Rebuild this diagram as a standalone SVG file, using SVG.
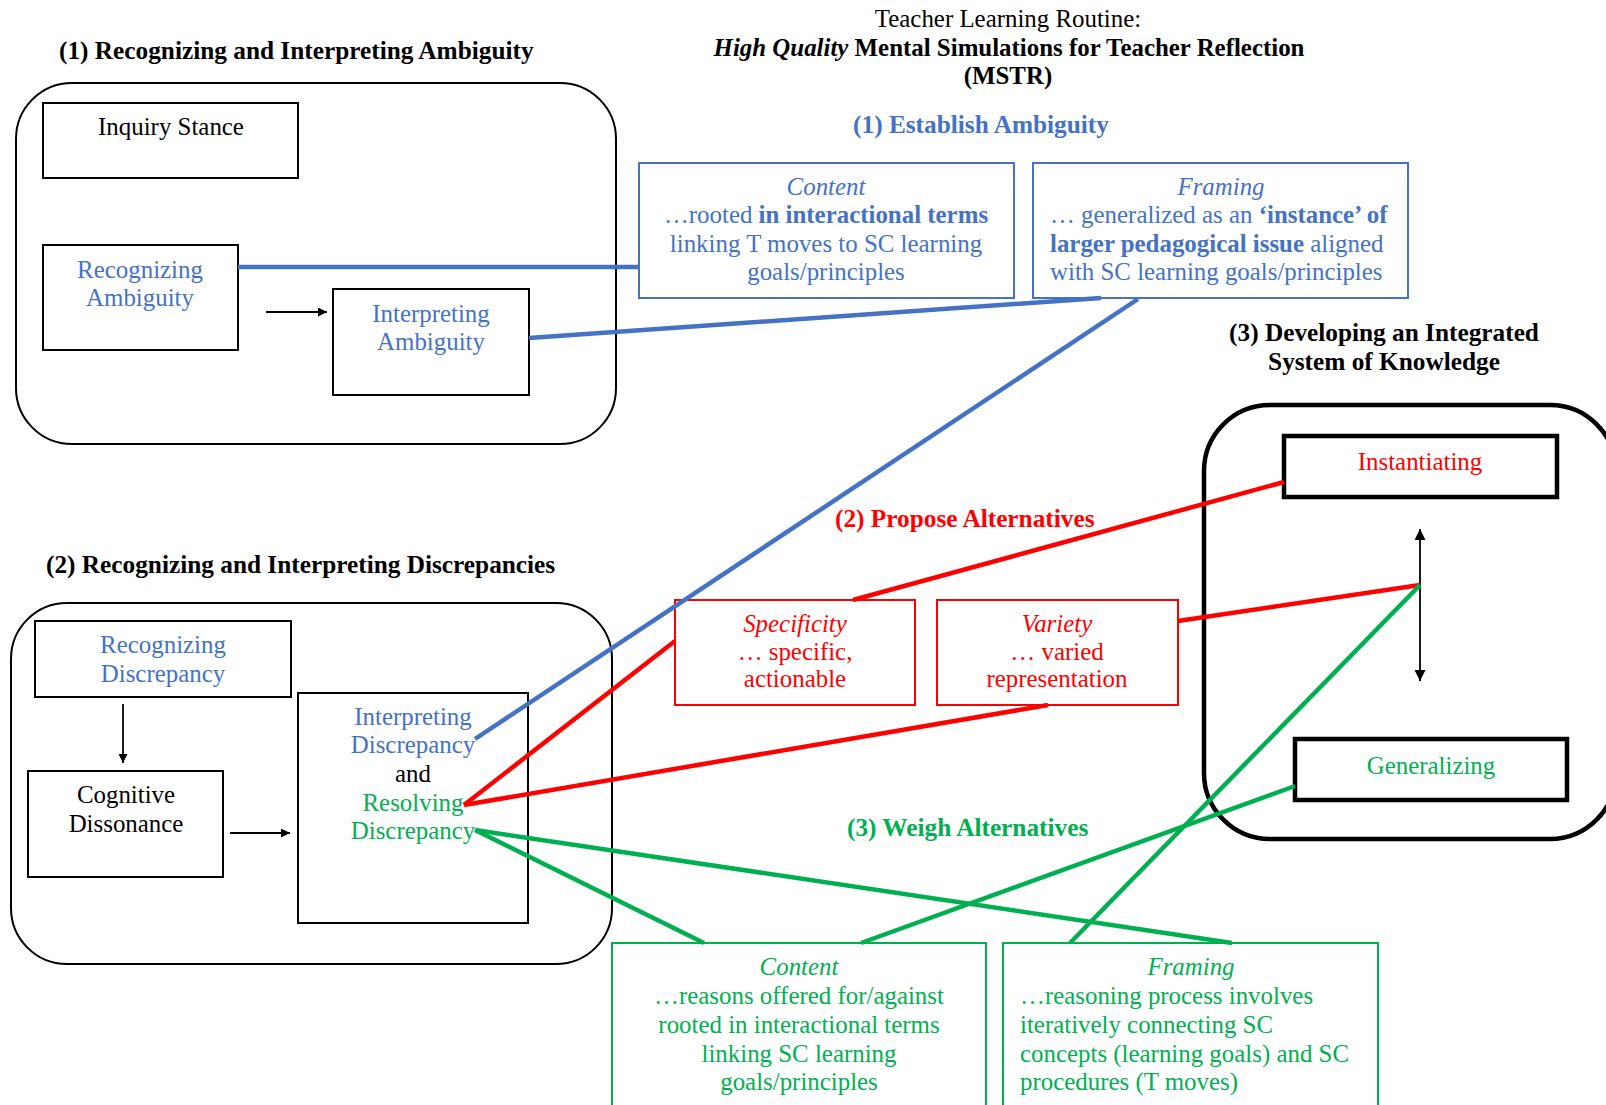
<svg xmlns="http://www.w3.org/2000/svg" width="1606" height="1105" viewBox="0 0 1606 1105">
<style>
text{font-family:"Liberation Serif","Times New Roman",serif;font-size:24.9px;fill:#000}
.h{font-size:25.3px;font-weight:bold}
.b{font-weight:bold}
.i{font-style:italic}
.c{text-anchor:middle}
.blue{fill:#4472C4}
.red{fill:#FF0000}
.green{fill:#00B050}
.box{fill:none;stroke:#000;stroke-width:2}
.tbox{fill:none;stroke:#000;stroke-width:4.5}
.bbox{fill:none;stroke:#4472C4;stroke-width:2}
.rbox{fill:none;stroke:#FF0000;stroke-width:2}
.gbox{fill:none;stroke:#00B050;stroke-width:2}
.round{fill:none;stroke:#000;stroke-width:2}
.bl{stroke:#4472C4;stroke-width:4.5;fill:none}
.rl{stroke:#FF0000;stroke-width:4.5;fill:none}
.gl{stroke:#00B050;stroke-width:4.5;fill:none}
.ar{stroke:#000;stroke-width:1.8;fill:none}
</style>
<defs>
<marker id="ah" viewBox="0 0 10 10" refX="10" refY="5" markerWidth="10" markerHeight="9" orient="auto-start-reverse" markerUnits="userSpaceOnUse">
<path d="M0,0 L10,5 L0,10 z" fill="#000"/>
</marker>
<marker id="ahb" viewBox="0 0 10 10" refX="10" refY="5" markerWidth="12" markerHeight="11" orient="auto-start-reverse" markerUnits="userSpaceOnUse">
<path d="M0,0 L10,5 L0,10 z" fill="#000"/>
</marker>
</defs>
<rect width="1606" height="1105" fill="#fff"/>

<g id="title">
<text class="c" x="1008" y="27">Teacher Learning Routine:</text>
<text class="c b" x="1009" y="56"><tspan class="i">High Quality</tspan> Mental Simulations for Teacher Reflection</text>
<text class="c b" x="1008" y="84">(MSTR)</text>
</g>

<g id="section1">
<text class="h" x="59" y="59">(1) Recognizing and Interpreting Ambiguity</text>
<rect class="round" x="16" y="83" width="600" height="361" rx="56" ry="56"/>
</g>
<g id="inquiry-stance">
<rect class="box" x="43" y="103" width="255" height="75"/>
<text class="c" x="171" y="135">Inquiry Stance</text>
</g>
<g id="recognizing-ambiguity">
<rect class="box" x="43" y="245" width="195" height="105"/>
<text class="c blue" x="140" y="278">Recognizing</text>
<text class="c blue" x="140" y="306">Ambiguity</text>
</g>
<g id="interpreting-ambiguity">
<rect class="box" x="333" y="289" width="196" height="106"/>
<text class="c blue" x="431" y="322">Interpreting</text>
<text class="c blue" x="431" y="350">Ambiguity</text>
</g>

<g id="establish-ambiguity">
<text class="h c blue" x="981" y="133">(1) Establish Ambiguity</text>
</g>
<g id="content-blue">
<rect class="bbox" x="639" y="163" width="375" height="135"/>
<text class="c i blue" x="826" y="195">Content</text>
<text class="c blue" x="826" y="223">…rooted <tspan class="b">in interactional terms</tspan></text>
<text class="c blue" x="826" y="252">linking T moves to SC learning</text>
<text class="c blue" x="826" y="280">goals/principles</text>
</g>
<g id="framing-blue">
<rect class="bbox" x="1033" y="163" width="375" height="135"/>
<text class="c i blue" x="1221" y="195">Framing</text>
<text class="blue" x="1050" y="223">… generalized as an <tspan class="b">‘instance’ of</tspan></text>
<text class="blue" x="1050" y="252"><tspan class="b">larger pedagogical issue</tspan> aligned</text>
<text class="blue" x="1050" y="280">with SC learning goals/principles</text>
</g>

<g id="section3">
<text class="h c" x="1384" y="341">(3) Developing an Integrated</text>
<text class="h c" x="1384" y="370">System of Knowledge</text>
<rect class="tbox" x="1204" y="405" width="412" height="434" rx="66" ry="66"/>
</g>
<g id="instantiating">
<rect class="tbox" x="1284" y="436" width="273" height="61"/>
<text class="c red" x="1420" y="470">Instantiating</text>
</g>
<g id="generalizing">
<rect class="tbox" x="1295" y="739" width="272" height="61"/>
<text class="c green" x="1431" y="774">Generalizing</text>
</g>

<g id="section2">
<text class="h" x="46" y="573">(2) Recognizing and Interpreting Discrepancies</text>
<rect class="round" x="11" y="603" width="601" height="361" rx="56" ry="56"/>
</g>
<g id="recognizing-discrepancy">
<rect class="box" x="35" y="621" width="256" height="76"/>
<text class="c blue" x="163" y="653">Recognizing</text>
<text class="c blue" x="163" y="682">Discrepancy</text>
</g>
<g id="cognitive-dissonance">
<rect class="box" x="28" y="771" width="195" height="106"/>
<text class="c" x="126" y="803">Cognitive</text>
<text class="c" x="126" y="832">Dissonance</text>
</g>
<g id="interpreting-resolving">
<rect class="box" x="298" y="693" width="230" height="230"/>
<text class="c blue" x="413" y="725">Interpreting</text>
<text class="c blue" x="413" y="753">Discrepancy</text>
<text class="c" x="413" y="782">and</text>
<text class="c green" x="413" y="811">Resolving</text>
<text class="c green" x="413" y="839">Discrepancy</text>
</g>

<g id="propose-alternatives">
<text class="h red" x="835" y="527">(2) Propose Alternatives</text>
</g>
<g id="specificity">
<rect class="rbox" x="675" y="600" width="240" height="105"/>
<text class="c i red" x="795" y="632">Specificity</text>
<text class="c red" x="795" y="660">… specific,</text>
<text class="c red" x="795" y="687">actionable</text>
</g>
<g id="variety">
<rect class="rbox" x="937" y="600" width="241" height="105"/>
<text class="c i red" x="1057" y="632">Variety</text>
<text class="c red" x="1057" y="660">… varied</text>
<text class="c red" x="1057" y="687">representation</text>
</g>

<g id="weigh-alternatives">
<text class="h green" x="847" y="836">(3) Weigh Alternatives</text>
</g>
<g id="content-green">
<rect class="gbox" x="612" y="943" width="374" height="180"/>
<text class="c i green" x="799" y="975">Content</text>
<text class="c green" x="799" y="1004">…reasons offered for/against</text>
<text class="c green" x="799" y="1033">rooted in interactional terms</text>
<text class="c green" x="799" y="1062">linking SC learning</text>
<text class="c green" x="799" y="1090">goals/principles</text>
</g>
<g id="framing-green">
<rect class="gbox" x="1003" y="943" width="375" height="180"/>
<text class="c i green" x="1191" y="975">Framing</text>
<text class="green" x="1020" y="1004">…reasoning process involves</text>
<text class="green" x="1020" y="1033">iteratively connecting SC</text>
<text class="green" x="1020" y="1062">concepts (learning goals) and SC</text>
<text class="green" x="1020" y="1090">procedures (T moves)</text>
</g>

<g id="connectors">
<line class="ar" x1="266" y1="312" x2="327" y2="312" marker-end="url(#ah)"/>
<line class="ar" x1="123" y1="704" x2="123" y2="763" marker-end="url(#ah)"/>
<line class="ar" x1="230" y1="833" x2="290" y2="833" marker-end="url(#ah)"/>
<line class="ar" x1="1420" y1="529" x2="1420" y2="681" marker-start="url(#ahb)" marker-end="url(#ahb)"/>

<line class="bl" x1="238" y1="267" x2="639" y2="267"/>
<line class="bl" x1="529" y1="338" x2="1101" y2="298"/>
<line class="bl" x1="1138" y1="299" x2="475" y2="739"/>

<line class="rl" x1="853" y1="600" x2="1284" y2="482"/>
<line class="rl" x1="1178" y1="621" x2="1420" y2="585"/>
<line class="rl" x1="464" y1="805" x2="675" y2="641"/>
<line class="rl" x1="464" y1="805" x2="1048" y2="705"/>

<line class="gl" x1="475" y1="830" x2="704" y2="943"/>
<line class="gl" x1="475" y1="830" x2="1232" y2="943"/>
<line class="gl" x1="1295" y1="786" x2="861" y2="943"/>
<line class="gl" x1="1420" y1="585" x2="1070" y2="943"/>
</g>
</svg>
